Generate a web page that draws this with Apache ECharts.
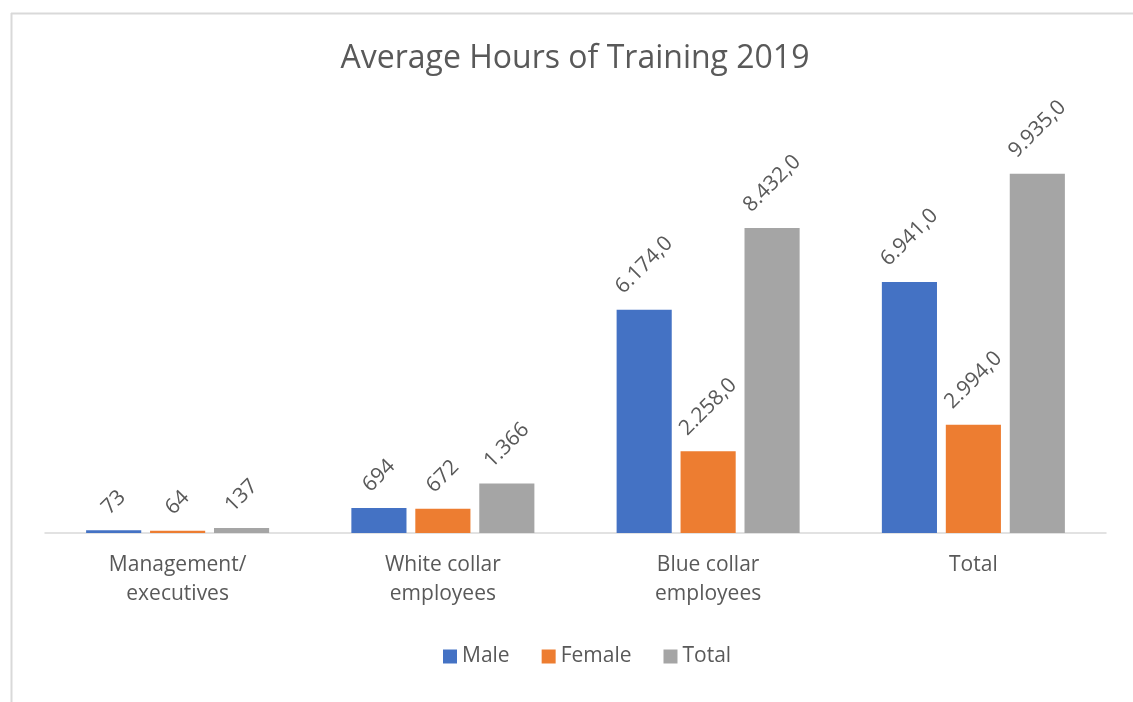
<!DOCTYPE html>
<html>
<head>
<meta charset="utf-8">
<script src="https://cdn.jsdelivr.net/npm/echarts@6/dist/echarts.min.js"></script>
<style>
  html, body { margin: 0; padding: 0; background: #ffffff; }
  #chart { width: 1133px; height: 702px; }
</style>
</head>
<body>
<div id="chart"></div>
<script>
const categories = ['Management/\nexecutives', 'White collar\nemployees', 'Blue collar\nemployees', 'Total'];
const seriesNames = ['Male', 'Female', 'Total'];
const maleValues = [73, 694, 6174, 6941];
const femaleValues = [64, 672, 2258, 2994];
const totalValues = [137, 1366, 8432, 9935];
const maleLabels = ['73', '694', '6.174,0', '6.941,0'];
const femaleLabels = ['64', '672', '2.258,0', '2.994,0'];
const totalLabels = ['137', '1.366', '8.432,0', '9.935,0'];

const colors = ['#4472C4', '#ED7D31', '#A5A5A5'];
const FONT = '"Open Sans", "DejaVu Sans", sans-serif';
const labelSize = 21;
const textColor = '#595959';

const measureCtx = document.createElement('canvas').getContext('2d');
measureCtx.font = labelSize + 'px "Open Sans"';
function labelDistance(text) {
  const L = measureCtx.measureText(text).width;
  const h = labelSize;
  return 12 + (L + h) / (2 * Math.SQRT2);
}

function buildSeries(name, values, labels, color) {
  return {
    name: name,
    type: 'bar',
    barGap: '16%',
    barCategoryGap: '31%',
    itemStyle: { color: color },
    data: values.map((v, i) => ({
      value: v,
      label: {
        show: true,
        position: 'top',
        distance: labelDistance(labels[i]),
        rotate: 45,
        align: 'center',
        verticalAlign: 'middle',
        formatter: labels[i],
        color: textColor,
        fontSize: labelSize,
        fontFamily: FONT
      }
    }))
  };
}

const chart = echarts.init(document.getElementById('chart'), null, { renderer: 'canvas' });
chart.setOption({
  animation: false,
  backgroundColor: '#ffffff',
  textStyle: { fontFamily: FONT },
  title: {
    text: 'Average Hours of Training 2019',
    left: 570,
    textAlign: 'center',
    top: 38,
    textStyle: { fontFamily: FONT, fontSize: 32, fontWeight: 'normal', color: textColor }
  },
  graphic: [
    { type: 'line', shape: { x1: 11, y1: 13.5, x2: 1133, y2: 13.5 }, style: { stroke: '#D9D9D9', lineWidth: 2 }, silent: true },
    { type: 'line', shape: { x1: 11.5, y1: 13, x2: 11.5, y2: 702 }, style: { stroke: '#D9D9D9', lineWidth: 2 }, silent: true }
  ],
  legend: {
    left: 443,
    top: 646,
    padding: 0,
    itemWidth: 14,
    itemHeight: 14,
    itemGap: 32,
    icon: 'rect',
    textStyle: { fontFamily: FONT, fontSize: 21, color: textColor, padding: [0, 0, 0, 0] },
    data: seriesNames
  },
  grid: { left: 45, right: 27, top: 99, bottom: 169, containLabel: false },
  xAxis: {
    type: 'category',
    data: categories,
    axisLine: { lineStyle: { color: '#D9D9D9', width: 1.5 } },
    axisTick: { show: false },
    axisLabel: { fontFamily: FONT, fontSize: 21, color: textColor, margin: 18, lineHeight: 29 }
  },
  yAxis: {
    type: 'value',
    min: 0,
    max: 12000,
    interval: 2000,
    show: false
  },
  series: [
    buildSeries(seriesNames[0], maleValues, maleLabels, colors[0]),
    buildSeries(seriesNames[1], femaleValues, femaleLabels, colors[1]),
    buildSeries(seriesNames[2], totalValues, totalLabels, colors[2])
  ]
});
</script>
</body>
</html>
